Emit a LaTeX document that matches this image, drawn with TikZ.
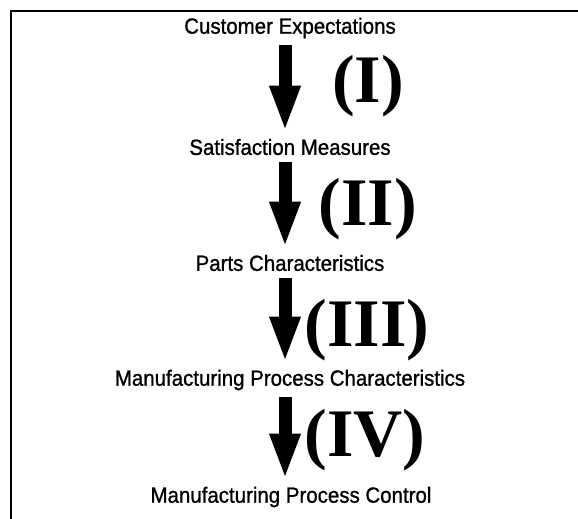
\documentclass[tikz,border=0pt]{standalone}
\usepackage{fontspec}
\usetikzlibrary{arrows.meta}
\newfontfamily\stagefont[FakeStretch=0.93,FakeBold=1]{Liberation Sans}
\newfontfamily\phasefont{Liberation Serif}

\tikzset{
  stage/.style={font=\stagefont\fontsize{22}{24}\selectfont, inner xsep=2pt, inner ysep=7pt},
  phase/.style={font=\phasefont\bfseries\fontsize{68}{68}\selectfont, inner sep=0pt},
  flow/.style={line width=13pt, -{Triangle[width=28pt,length=46pt]}}
}

\begin{document}
\begin{tikzpicture}[x=1pt,y=-1pt]
    \useasboundingbox (0,0) rectangle (578,519);

    % Frame (cut off at right and bottom)
    \draw[line width=2pt] (11,519) -- (11,11) -- (578,11);

    % Stages
    \node[stage] (cust) at (290,28)  {Customer Expectations};
    \node[stage] (sat)  at (290,147) {Satisfaction Measures};
    \node[stage] (part) at (290,263) {Parts Characteristics};
    \node[stage] (proc) at (290,380) {Manufacturing Process Characteristics};
    \node[stage] (ctrl) at (291,497) {Manufacturing Process Control};

    % Arrow column
    \coordinate (col) at (285,0);

    % Arrows
    \draw[flow] (cust.south -| col) -- (sat.north -| col);
    \draw[flow] (sat.south -| col)  -- (part.north -| col);
    \draw[flow] (part.south -| col) -- (proc.north -| col);
    \draw[flow] (proc.south -| col) -- (ctrl.north -| col);

    % Phase numbers
    \node[phase] (p1) at (368,86)  {(I)};
    \node[phase] (p2) at (368,209) {(II)};
    \node[phase] (p3) at (367,330) {(III)};
    \node[phase] (p4) at (365,440) {(IV)};
\end{tikzpicture}
\end{document}
